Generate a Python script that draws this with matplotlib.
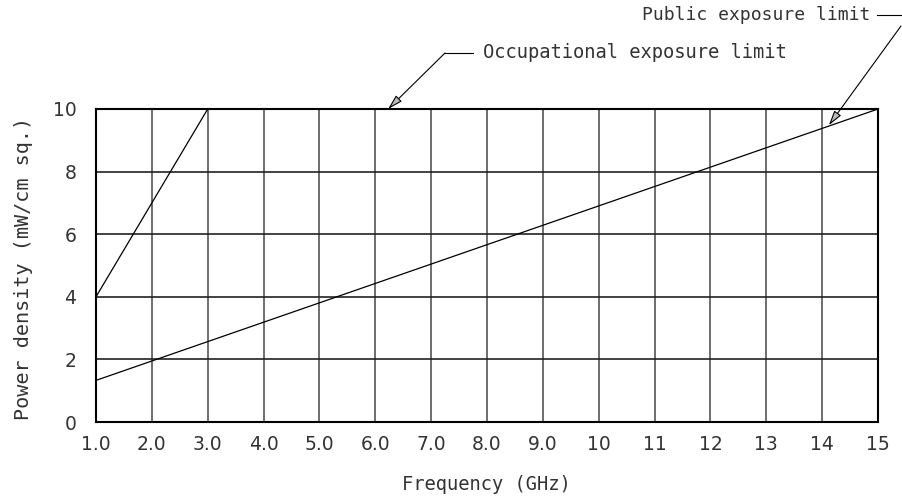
import matplotlib
matplotlib.use('Agg')
import matplotlib.pyplot as plt

# exposure limits, mW/cm sq. vs GHz
occ_freq = [1.0, 3.0, 15.0]
occ_dens = [4.0, 10.0, 10.0]
pub_freq = [1.0, 15.0]
pub_dens = [1.33, 10.0]

xticks = list(range(1, 16))
xlabels = ['1.0', '2.0', '3.0', '4.0', '5.0', '6.0', '7.0', '8.0', '9.0',
           '10', '11', '12', '13', '14', '15']
yticks = [0, 2, 4, 6, 8, 10]

plt.rcParams['font.family'] = ['DejaVu Sans']
txt = '#333333'
mono = dict(family='DejaVu Sans Mono', fontsize=13.5, color=txt)

fig = plt.figure(figsize=(9.02, 5), dpi=100)
ax = fig.add_axes([96/902, 78/500, 782/902, 313/500])

ax.plot(occ_freq, occ_dens, color='black', linewidth=0.9, zorder=3)
ax.plot(pub_freq, pub_dens, color='black', linewidth=0.9, zorder=3)

ax.set_xlim(1, 15)
ax.set_ylim(0, 10)
ax.set_xticks(xticks)
ax.set_xticklabels(xlabels)
ax.set_yticks(yticks)
for x in xticks[1:-1]:
    ax.axvline(x, color='#555555', linewidth=1.2, zorder=1)
for y in yticks[1:-1]:
    ax.axhline(y, color='#222222', linewidth=1.2, zorder=1)
for s in ax.spines.values():
    s.set_linewidth(1.5)
ax.tick_params(length=0, labelsize=13.5, colors=txt)
ax.tick_params(axis='x', pad=9)
ax.tick_params(axis='y', pad=14)

fig.text(486/902, 1 - 485/500, 'Frequency (GHz)', ha='center', va='center', **mono)
fig.text(24/902, 1 - 268/500, 'Power density (mW/cm sq.)', ha='center', va='center',
         rotation=90, family='DejaVu Sans Mono', fontsize=14.5, color=txt)

arrow = dict(arrowstyle='-|>,head_length=0.9,head_width=0.25', color='black',
             lw=0.8, fc='#bbbbbb', shrinkA=0, shrinkB=0)
ax.annotate('', xy=(6.23, 10.0), xytext=(445, 447), xycoords='data',
            textcoords='figure pixels', arrowprops=arrow, annotation_clip=False)
fig.add_artist(plt.Line2D([445/902, 473/902], [447/500, 447/500], color='black', lw=0.8))
fig.text(483/902, 447/500, 'Occupational exposure limit', va='center', ha='left', **mono)

ax.annotate('', xy=(14.12, 9.48), xytext=(901, 474), xycoords='data',
            textcoords='figure pixels', arrowprops=arrow, annotation_clip=False)
fig.add_artist(plt.Line2D([877/902, 901/902], [485/500, 485/500], color='black', lw=0.8))
fig.text(870/902, 485/500, 'Public exposure limit', va='center', ha='right',
         family='DejaVu Sans Mono', fontsize=13, color=txt)

fig.savefig('out.png', dpi=100)
